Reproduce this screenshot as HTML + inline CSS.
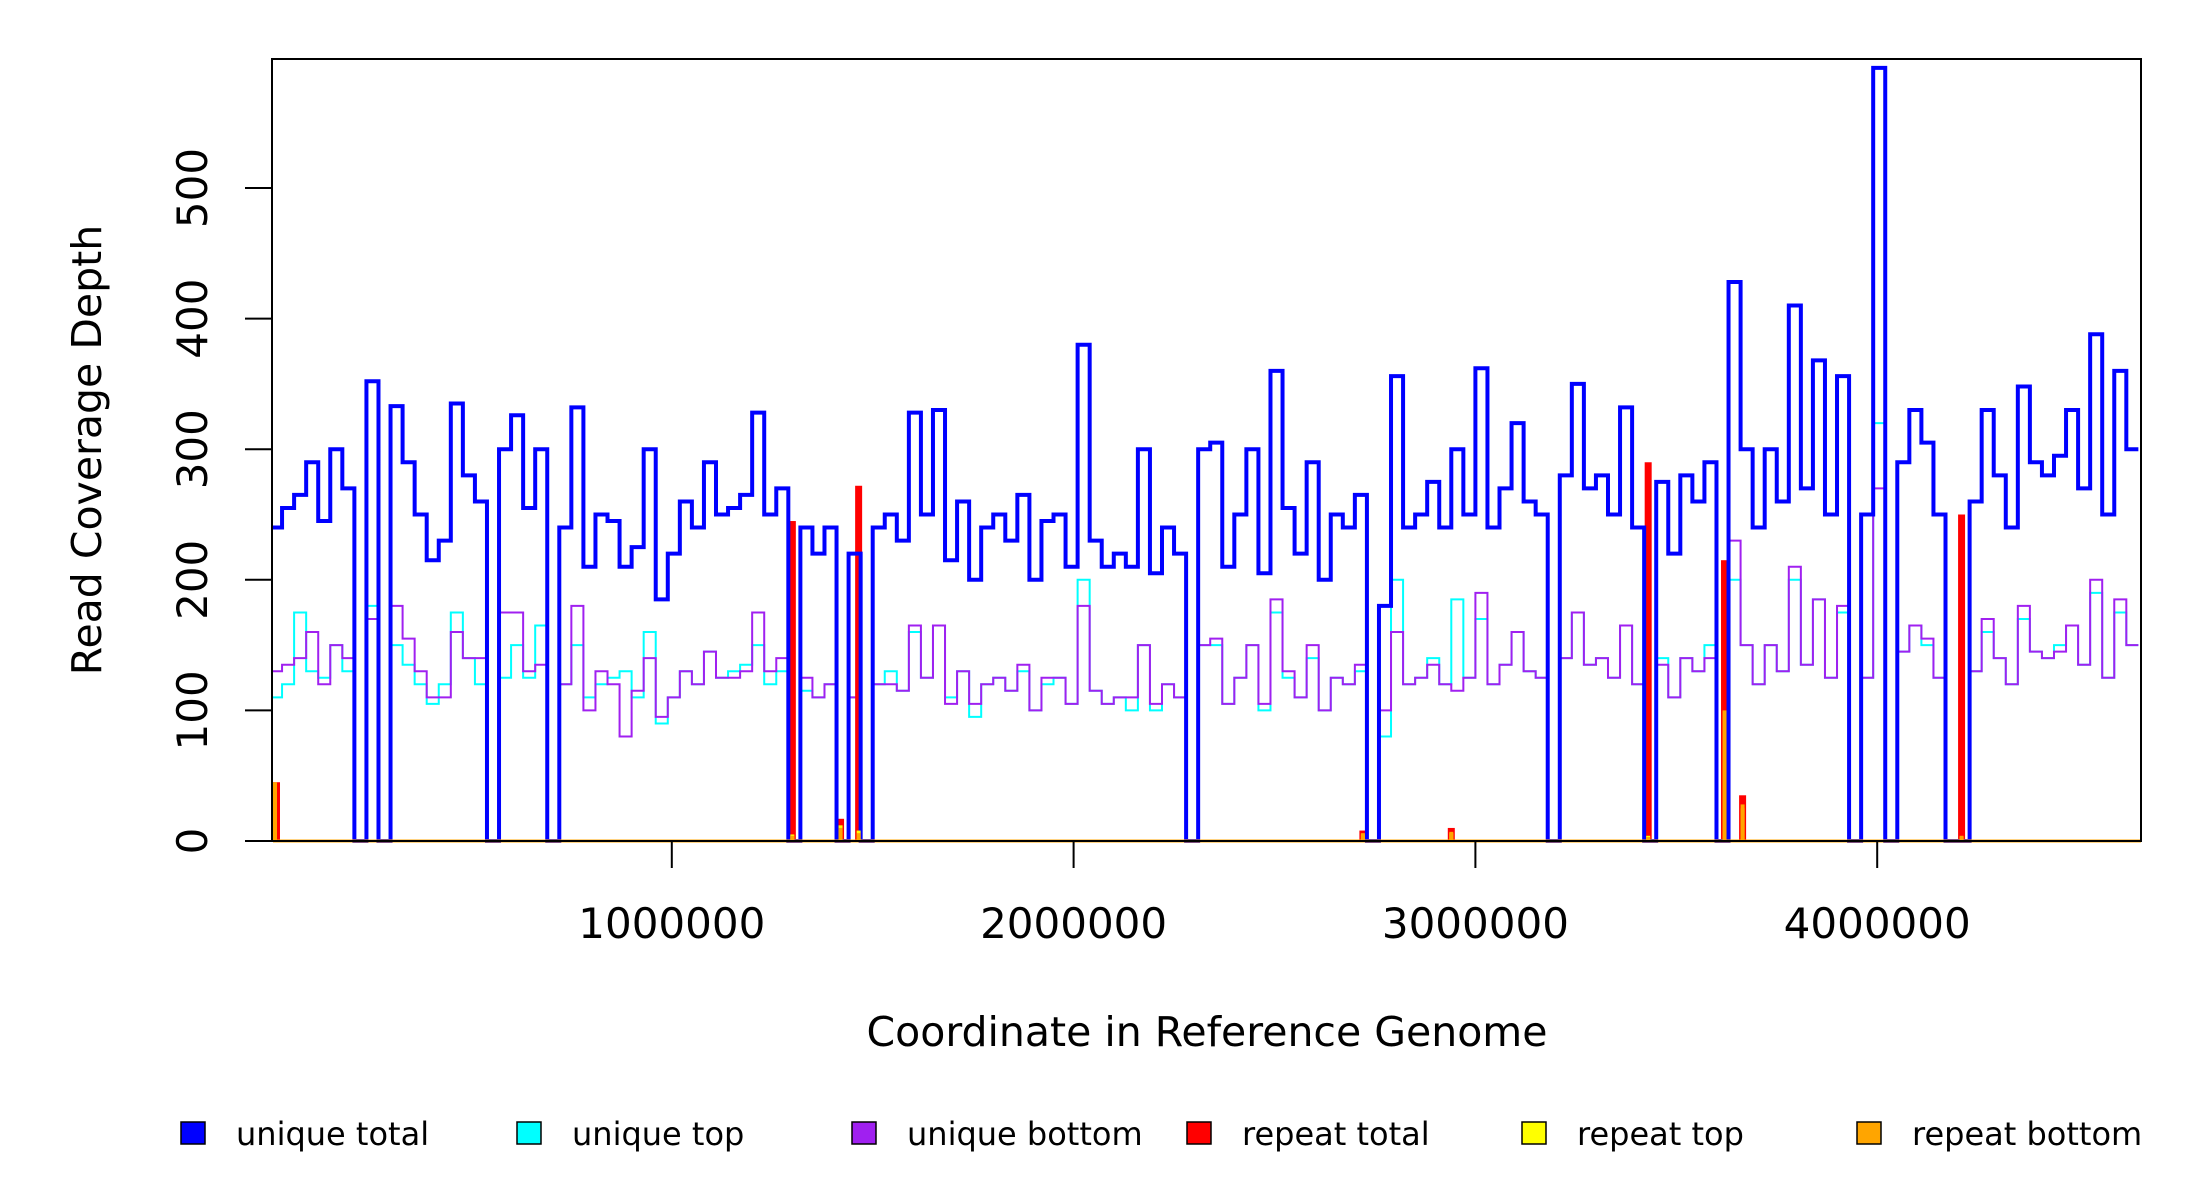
<!DOCTYPE html>
<html><head><meta charset="utf-8">
<style>
html,body{margin:0;padding:0;background:#fff;}
svg{display:block;font-family:"DejaVu Sans","Liberation Sans",sans-serif;}
</style></head>
<body>
<svg id="chart" width="2200" height="1200" viewBox="0 0 2200 1200">
  <rect x="0" y="0" width="2200" height="1200" fill="#fff"/>
  <g id="series"></g>
  <rect x="272" y="59" width="1869" height="782" fill="none" stroke="#000" stroke-width="2"/>
  <g id="axes"></g>
  <text x="101" y="450" font-size="41" text-anchor="middle" transform="rotate(-90 101 450)">Read Coverage Depth</text>
  <text x="1207" y="1046" font-size="41" text-anchor="middle">Coordinate in Reference Genome</text>
  <g id="legend"></g>
</svg>
<script>
const binSize = 30000;
const uniqueTotal = [240,255,265,290,245,300,270,0,352,0,
333,290,250,215,230,335,280,260,0,300,
326,255,300,0,240,332,210,250,245,210,
225,300,185,220,260,240,290,250,255,265,
328,250,270,0,240,220,240,0,220,0,
240,250,230,328,250,330,215,260,200,240,
250,230,265,200,245,250,210,380,230,210,
220,210,300,205,240,220,0,300,305,210,
250,300,205,360,255,220,290,200,250,240,
265,0,180,356,240,250,275,240,300,250,
362,240,270,320,260,250,0,280,350,270,
280,250,332,240,0,275,220,280,260,290,
0,428,300,240,300,260,410,270,368,250,
356,0,250,592,0,290,330,305,250,0,
0,260,330,280,240,348,290,280,295,330,
270,388,250,360,300];
const uniqueTop = [110,120,175,130,125,150,130,0,180,0,
150,135,120,105,120,175,140,120,0,125,
150,125,165,0,120,150,110,120,125,130,
110,160,90,110,130,120,145,125,130,135,
150,120,130,0,115,110,120,0,110,0,
120,130,115,160,125,165,110,130,95,120,
125,115,130,100,120,125,105,200,115,105,
110,100,150,100,120,110,0,150,150,105,
125,150,100,175,125,110,140,100,125,120,
130,0,80,200,120,125,140,120,185,125,
170,120,135,160,130,125,0,140,175,135,
140,125,165,120,0,140,110,140,130,150,
0,200,150,120,150,130,200,135,185,125,
175,0,125,320,0,145,165,150,125,0,
0,130,160,140,120,170,145,140,150,165,
135,190,125,175,150];
const uniqueBottom = [130,135,140,160,120,150,140,0,170,0,
180,155,130,110,110,160,140,140,0,175,
175,130,135,0,120,180,100,130,120,80,
115,140,95,110,130,120,145,125,125,130,
175,130,140,0,125,110,120,0,110,0,
120,120,115,165,125,165,105,130,105,120,
125,115,135,100,125,125,105,180,115,105,
110,110,150,105,120,110,0,150,155,105,
125,150,105,185,130,110,150,100,125,120,
135,0,100,160,120,125,135,120,115,125,
190,120,135,160,130,125,0,140,175,135,
140,125,165,120,0,135,110,140,130,140,
0,230,150,120,150,130,210,135,185,125,
180,0,125,270,0,145,165,155,125,0,
0,130,170,140,120,180,145,140,145,165,
135,200,125,185,150];
const repeatPos = [5000,1300000,1420000,1465000,2940000,3430000,3620000,3665000,4210000,2720000];
const repeatTotal = [45,245,17,272,10,290,215,35,250,8];
const repeatTop = [40,5,12,8,6,4,60,25,3,5];
const repeatBottom = [45,4,10,6,7,3,100,28,4,6];
const yTicks = [0,100,200,300,400,500];
const xTicks = [1000000,2000000,3000000,4000000];
const legendLabels = ["unique total","unique top","unique bottom","repeat total","repeat top","repeat bottom"];
const legendColors = ["#0000ff","#00ffff","#a020f0","#ff0000","#ffff00","#ffa500"];

const NS = "http://www.w3.org/2000/svg";
const X0 = 270, XS = 401.8/1e6, Y0 = 841, YS = 1.306, XMAX = 2141;
function sx(v){ return Math.min(XMAX, X0 + v*XS); }
function sy(v){ return Y0 - v*YS; }
function mk(tag, attrs){ const e = document.createElementNS(NS, tag); for (const k in attrs) e.setAttribute(k, attrs[k]); return e; }
const series = document.getElementById('series');

function stepPath(vals){
  let d = "";
  vals.forEach((v,i)=>{
    const xa = Math.max(273, sx(i*binSize)), xb = sx((i+1)*binSize), y = sy(v);
    d += (i===0 ? "M"+xa+","+y : "L"+xa+","+y) + "L"+xb+","+y;
  });
  return d;
}
function drawStep(vals, color, w, name){
  const p = mk('path', {d: stepPath(vals), fill:'none', stroke:color, 'stroke-width':w, 'stroke-linejoin':'miter'});
  
  
  series.appendChild(p);
}
drawStep(uniqueTop, "#00ffff", 2, "unique-top-line");
drawStep(uniqueBottom, "#a020f0", 2, "unique-bottom-line");

function drawRepeat(vals, color, w, name){
  const g = mk('g', {});
  
  
  const base = mk('line', {x1: 273, x2: XMAX, y1: sy(0), y2: sy(0), stroke: color, 'stroke-width': 3});
  
  
  g.appendChild(base);
  repeatPos.forEach((p,i)=>{
    const r = mk('rect', {x: Math.max(273, sx(p)-w/2), y: sy(vals[i]), width: w, height: vals[i]*YS, fill: color});
    
    
    g.appendChild(r);
  });
  series.appendChild(g);
}
drawRepeat(repeatTotal, "#ff0000", 7, "repeat-total");
drawStep(uniqueTotal, "#0000ff", 4, "unique-total-line");
drawRepeat(repeatTop, "#ffff00", 4, "repeat-top");
drawRepeat(repeatBottom, "#ffa500", 4, "repeat-bottom");

const axes = document.getElementById('axes');
yTicks.forEach(t=>{
  const y = sy(t);
  const l = mk('line', {x1: 245, x2: 272, y1: y, y2: y, stroke:'#000', 'stroke-width':2});
  
  
  axes.appendChild(l);
  const tx = mk('text', {x: 207, y: y, 'font-size': 42, 'text-anchor':'middle', transform: 'rotate(-90 207 '+y+')'});
  tx.textContent = t;
  
  
  axes.appendChild(tx);
});
xTicks.forEach(t=>{
  const x = sx(t);
  const l = mk('line', {x1: x, x2: x, y1: 841, y2: 868, stroke:'#000', 'stroke-width':2});
  
  
  axes.appendChild(l);
  const tx = mk('text', {x: x, y: 938, 'font-size': 42, 'text-anchor':'middle'});
  tx.textContent = t;
  
  
  axes.appendChild(tx);
});

const legend = document.getElementById('legend');
const lx = [181, 517, 852, 1187, 1522, 1857];
legendLabels.forEach((lab,i)=>{
  const g = mk('g', {});
  
  
  const r = mk('rect', {x: lx[i], y: 1122, width: 24, height: 22, fill: legendColors[i], stroke:'#000', 'stroke-width':1.5});
  
  
  g.appendChild(r);
  const t = mk('text', {x: lx[i]+55, y: 1145, 'font-size': 32});
  t.textContent = lab;
  
  
  g.appendChild(t);
  legend.appendChild(g);
});
</script>
</body></html>
